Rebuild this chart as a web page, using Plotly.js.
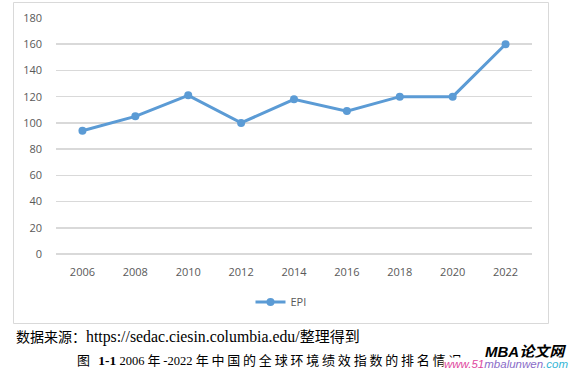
<!DOCTYPE html>
<html>
<head>
<meta charset="utf-8">
<script src="https://cdn.plot.ly/plotly-3.0.1.min.js"></script>
<style>
html,body{margin:0;padding:0;background:#fff;}
#chart{width:572px;height:371px;}
</style>
</head>
<body>
<div id="chart"></div>
<script>
const years = ["2006","2008","2010","2012","2014","2016","2018","2020","2022"];
const epiRank = [94,105,121,100,118,109,120,120,160];
const seriesName = "EPI";
const yTicks = [0,20,40,60,80,100,120,140,160,180];
const sourceParts = ["数据来源：", "https://sedac.ciesin.columbia.edu/", "整理得到"];
const captionParts = ["图 ", "1-1", " 2006 ", "年", "-2022 ", "年中国的全球环境绩效指数的排名情况"];

const blue = "#5B9BD5";
const tickFont = {family:"Open Sans, DejaVu Sans, sans-serif", size:11, color:"#595959"};
const serif = "Liberation Serif, Noto Sans CJK SC, serif";

const trace = {
  x: years, y: epiRank, name: seriesName, type: "scatter", mode: "lines+markers",
  line: {color: blue, width: 3},
  marker: {color: blue, size: 8},
  showlegend: true
};

// paper coords helper: plot area x 56..532, y 18..254
const L=56, R=532, T=18, B=254;
const px = v => (v - L)/(R - L);
const py = v => (B - v)/(B - T);
const sz = (t, s, ls) => "<span style='font-size:" + s + "px" + (ls ? ";letter-spacing:" + ls + "px" : "") + "'>" + t + "</span>";

const sourceHtml = sz(sourceParts[0], 14) + sz(sourceParts[1], 15.8) + sz(sourceParts[2], 15);
const captionHtml = sz(captionParts[0], 13, 2.5) + "<b>" + sz(captionParts[1], 13.5) + "</b>" +
  sz(captionParts[2], 12.5) + sz(captionParts[3], 13, 2.8) + sz(captionParts[4], 12.5) + sz(captionParts[5], 13, 2.8);

const layout = {
  width: 572, height: 371,
  margin: {l: L, r: 572-R, t: T, b: 371-B},
  paper_bgcolor: "#fff", plot_bgcolor: "#fff",
  font: tickFont,
  xaxis: {
    type: "category", range: [-0.5, 8.5], showgrid: false, zeroline: false, showline: false,
    ticks: "", tickfont: tickFont, ticklabelstandoff: 10, fixedrange: true
  },
  yaxis: {
    range: [0, 180], tickvals: yTicks, showgrid: true, gridcolor: "#d9d9d9", gridwidth: 1.5,
    zeroline: true, zerolinecolor: "#d9d9d9", zerolinewidth: 1.5, showline: false,
    ticks: "", tickfont: tickFont, ticklabelstandoff: 13, fixedrange: true
  },
  showlegend: true,
  legend: {
    orientation: "h", x: px(281), xanchor: "center", y: py(302), yanchor: "middle",
    font: tickFont, bgcolor: "rgba(0,0,0,0)"
  },
  shapes: [{
    type: "rect", xref: "paper", yref: "paper",
    x0: px(13.5), x1: px(548.5), y0: py(323.5), y1: py(2.5),
    line: {color: "#d9d9d9", width: 1}, fillcolor: "rgba(0,0,0,0)", layer: "below"
  }],
  annotations: [
    {xref:"paper", yref:"paper", x: px(14), y: py(337), xanchor:"left", yanchor:"middle",
     text: sourceHtml, showarrow:false, font:{family: serif, size:14, color:"#000"}},
    {xref:"paper", yref:"paper", x: px(75), y: py(360), xanchor:"left", yanchor:"middle",
     text: captionHtml, showarrow:false, font:{family: serif, size:13, color:"#000"}},
    {xref:"paper", yref:"paper", x: px(568), y: py(351), xanchor:"right", yanchor:"middle",
     text: "<b><i>MBA论文网</i></b>", showarrow:false,
     font:{family:"Liberation Sans, Noto Sans CJK SC, sans-serif", size:15, color:"#000"}},
    {xref:"paper", yref:"paper", x: px(569), y: py(364), xanchor:"right", yanchor:"middle",
     text: "<i><span style='color:#e0479e'>www.51</span><span style='color:#8a6cc8'>mbalunwen</span><span style='color:#35b6d6'>.com</span></i>",
     showarrow:false, bgcolor:"#fff", borderpad:0,
     font:{family:"Liberation Sans, sans-serif", size:11.5, color:"#e0479e"}}
  ]
};

Plotly.newPlot("chart", [trace], layout, {displayModeBar:false, staticPlot:true});
</script>
</body>
</html>
